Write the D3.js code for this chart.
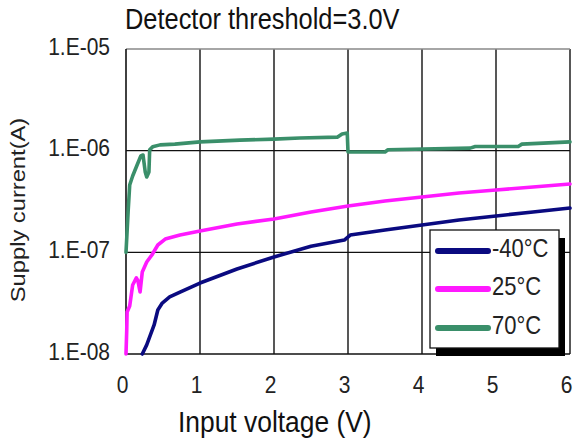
<!DOCTYPE html>
<html><head><meta charset="utf-8">
<script src="https://cdn.jsdelivr.net/npm/d3@7/dist/d3.min.js"></script>
<style>body{margin:0;background:#fff}svg{display:block;font-family:"Liberation Sans",Arial,sans-serif}</style>
</head><body><svg id="c" width="574" height="442"></svg>
<script>
const xTicks = [0,1,2,3,4,5,6];
const yTicks = [1e-8,1e-7,1e-6,1e-5];
const yTickLabels = ["1.E-08","1.E-07","1.E-06","1.E-05"];
const seriesNames = ["-40\u00B0C","25\u00B0C","70\u00B0C"];
const seriesColors = ["#0a0a80","#ff19ff","#3a8f6a"];

const vM40 = [0.22,0.28,0.32,0.38,0.43,0.49,0.59,0.73,1.0,1.5,2.0,2.5,2.95,3.03,3.5,4.0,4.5,5.0,5.5,6.0];
const iM40 = [1.0e-8,1.23e-8,1.47e-8,1.93e-8,2.71e-8,3.17e-8,3.64e-8,4.07e-8,4.99e-8,6.86e-8,9.0e-8,1.15e-7,1.32e-7,1.48e-7,1.66e-7,1.86e-7,2.08e-7,2.28e-7,2.49e-7,2.73e-7];

const v25 = [0.0,0.01,0.015,0.05,0.09,0.14,0.16,0.19,0.22,0.28,0.35,0.43,0.53,0.73,1.0,1.5,2.0,2.5,3.0,3.5,4.0,4.5,5.0,5.5,6.0];
const i25 = [1.0e-8,1.72e-8,2.59e-8,2.97e-8,4.77e-8,5.6e-8,5.3e-8,4.07e-8,6.41e-8,8.03e-8,9.42e-8,1.18e-7,1.35e-7,1.48e-7,1.62e-7,1.90e-7,2.13e-7,2.49e-7,2.86e-7,3.20e-7,3.50e-7,3.84e-7,4.10e-7,4.39e-7,4.70e-7];

const v70 = [0.0,0.03,0.05,0.09,0.15,0.20,0.23,0.26,0.28,0.31,0.32,0.36,0.46,0.66,1.0,1.54,2.0,2.35,2.86,2.92,2.99,3.0,3.5,3.54,4.65,4.72,5.3,5.35,6.0];
const i70 = [1.0e-7,2.61e-7,4.59e-7,5.64e-7,7.23e-7,8.87e-7,9.06e-7,6.17e-7,5.51e-7,6.17e-7,1.02e-6,1.09e-6,1.14e-6,1.16e-6,1.22e-6,1.27e-6,1.30e-6,1.33e-6,1.36e-6,1.46e-6,1.49e-6,9.7e-7,9.7e-7,1.02e-6,1.06e-6,1.10e-6,1.10e-6,1.16e-6,1.22e-6];

const seriesV = [vM40, v25, v70];
const seriesI = [iM40, i25, i70];

const svg = d3.select("#c");
const L=126, R=570, T=49, B=354, SY=1.13;
const x = d3.scaleLinear().domain([0,6]).range([L,R]);
const y = d3.scaleLog().domain([1e-8,1e-5]).range([B,T]);

// grid
const g = svg.append("g");
g.selectAll(".vg").data(xTicks.slice(1)).enter().append("line")
  .attr("x1",d=>x(d)).attr("x2",d=>x(d)).attr("y1",T).attr("y2",B)
  .attr("stroke","#111").attr("stroke-width",1.4);
g.selectAll(".hg").data(yTicks.slice(1,3)).enter().append("line")
  .attr("x1",L).attr("x2",R).attr("y1",d=>y(d)).attr("y2",d=>y(d))
  .attr("stroke","#111").attr("stroke-width",1.4);
g.append("line").attr("x1",L).attr("x2",R).attr("y1",T).attr("y2",T).attr("stroke","#888").attr("stroke-width",1.6);
g.append("line").attr("x1",L).attr("x2",L).attr("y1",T).attr("y2",B).attr("stroke","#111").attr("stroke-width",1.6);
g.append("line").attr("x1",L).attr("x2",R).attr("y1",B).attr("y2",B).attr("stroke","#111").attr("stroke-width",1.6);

// y tick labels
svg.selectAll(".yl").data(yTicks).enter().append("text")
  .attr("transform",d=>`translate(110,${y(d)+5.5}) scale(1,${SY})`)
  .attr("text-anchor","end").attr("font-size",21).attr("fill","#222")
  .text((d,i)=>yTickLabels[i]);
// x tick labels
svg.selectAll(".xl").data(xTicks).enter().append("text")
  .attr("transform",d=>`translate(${x(d)-3.5},393) scale(1,${SY})`)
  .attr("text-anchor","middle").attr("font-size",21).attr("fill","#222")
  .text(d=>d);

// lines
const line = d3.line().x(d=>x(d[0])).y(d=>y(d[1]));
seriesV.forEach((vs,k)=>{
  const pts = vs.map((v,i)=>[v, seriesI[k][i]]);
  svg.append("path").datum(pts).attr("d",line).attr("fill","none")
    .attr("stroke",seriesColors[k]).attr("stroke-width",3.6)
    .attr("stroke-linejoin","round").attr("stroke-linecap","round");
});

// legend
const lg = svg.append("g");
lg.append("rect").attr("x",436).attr("y",238).attr("width",129).attr("height",118).attr("fill","#000");
lg.append("rect").attr("x",430).attr("y",230).attr("width",129).attr("height",118).attr("fill","#fff").attr("stroke","#111").attr("stroke-width",1.3);
const ly = [251,289,328];
seriesNames.forEach((n,k)=>{
  lg.append("line").attr("x1",438).attr("x2",488).attr("y1",ly[k]).attr("y2",ly[k])
    .attr("stroke",seriesColors[k]).attr("stroke-width",6).attr("stroke-linecap","round");
  lg.append("text").attr("transform",`translate(492,${ly[k]+6}) scale(1,${SY})`)
    .attr("font-size",22).attr("fill","#222").text(n);
});

// titles
svg.append("text").attr("transform",`translate(125,29) scale(1,${SY})`)
  .attr("font-size",25.4).attr("fill","#111").text("Detector threshold=3.0V");
svg.append("text").attr("transform",`translate(178,432) scale(1,${SY})`)
  .attr("font-size",26.4).attr("fill","#111").text("Input voltage (V)");
svg.append("text").attr("transform",`translate(25,210) scale(1,${SY}) rotate(-90)`)
  .attr("text-anchor","middle").attr("font-size",21).attr("fill","#222").text("Supply current(A)");
</script></body></html>
